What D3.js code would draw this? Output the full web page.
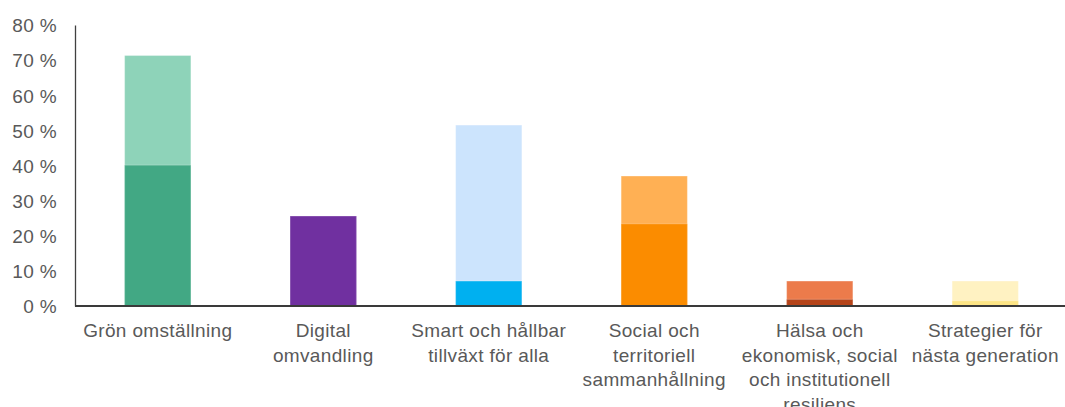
<!DOCTYPE html>
<html>
<head>
<meta charset="utf-8">
<script src="https://cdn.jsdelivr.net/npm/d3@7"></script>
<style>
    body { margin: 0; background: #fff; }
    text { font-family: "Liberation Sans", Arial, sans-serif; }
</style>
</head>
<body>
<div class="chart__container"></div>
<script>
/*-------------------------------------INIT-------------------------------------*/

const CHART__WIDTH = 1065;
const CHART__HEIGHT = 407;

const MARGIN = {
    top: 25,
    right: -3,
    bottom: 101,
    left: 75
}

// category labels, one entry per line
const CATEGORIES = [
    ["Grön omställning"],
    ["Digital", "omvandling"],
    ["Smart och hållbar", "tillväxt för alla"],
    ["Social och", "territoriell", "sammanhållning"],
    ["Hälsa och", "ekonomisk, social", "och institutionell", "resiliens"],
    ["Strategier för", "nästa generation"]
];

// total share (light part) and inner share (dark part), in %
const TOTAL_VALUES = [71.3, 25.6, 51.5, 37.0, 7.1, 7.1];
const INNER_VALUES = [40.1, 25.6, 7.1, 23.4, 1.9, 1.5];

const TOTAL_COLORS = ["#8ed3b9", "#7030a0", "#cce4fd", "#ffb054", "#ec7b4b", "#fff2c2"];
const INNER_COLORS = ["#42a884", "#7030a0", "#00b0f0", "#fb8c00", "#b5441a", "#fde585"];

const Y_TICKS = [0, 10, 20, 30, 40, 50, 60, 70, 80];


/*-------------------------------------Graph-------------------------------------*/

const SVG = d3.select(".chart__container").append("svg");

SVG.attr("width", CHART__WIDTH).attr("height", CHART__HEIGHT);

const xScale = d3.scaleBand()
    .domain(d3.range(CATEGORIES.length))
    .range([MARGIN.left, CHART__WIDTH - MARGIN.right])
    .paddingInner(0.6)
    .paddingOuter(0.3);

const yScale = d3.scaleLinear()
    .domain([0, 80])
    .range([CHART__HEIGHT - MARGIN.bottom, MARGIN.top]);

//Bars (light total behind, dark inner in front)

const drawBars = (values, colors, cls) => {
    SVG.append("g").attr("class", cls)
        .selectAll("rect")
        .data(values)
        .join("rect")
        .attr("x", (d, i) => xScale(i))
        .attr("y", d => yScale(d))
        .attr("width", xScale.bandwidth())
        .attr("height", d => yScale(0) - yScale(d))
        .attr("fill", (d, i) => colors[i])
        .attr("stroke", "#ffffff")
        .attr("stroke-opacity", 0.25)
        .attr("stroke-width", 1);
}

drawBars(TOTAL_VALUES, TOTAL_COLORS, "bars-total");
drawBars(INNER_VALUES, INNER_COLORS, "bars-inner");

//Y axis

const yAxis = d3.axisLeft(yScale)
    .tickValues(Y_TICKS)
    .tickSize(0)
    .tickPadding(18)
    .tickFormat(d => d + " %");

const yAxisG = SVG.append("g")
    .attr("transform", `translate(${MARGIN.left},0)`)
    .call(yAxis);

yAxisG.select(".domain").attr("stroke", "#404040").attr("stroke-width", 1.3);
yAxisG.selectAll("text")
    .attr("fill", "#595959")
    .style("font-size", "19px")
    .style("letter-spacing", "0.35px")
    .attr("dy", "0.36em");

//X axis line

SVG.append("line")
    .attr("x1", MARGIN.left)
    .attr("x2", CHART__WIDTH)
    .attr("y1", yScale(0))
    .attr("y2", yScale(0))
    .attr("stroke", "#3a3a3a")
    .attr("stroke-width", 2);

//Category labels

const labels = SVG.append("g")
    .selectAll("text")
    .data(CATEGORIES)
    .join("text")
    .attr("x", (d, i) => xScale(i) + xScale.bandwidth() / 2)
    .attr("y", yScale(0) + 31)
    .attr("text-anchor", "middle")
    .attr("fill", "#595959")
    .style("font-size", "19px")
    .style("letter-spacing", "0.35px");

labels.selectAll("tspan")
    .data(d => d)
    .join("tspan")
    .attr("x", function () { return d3.select(this.parentNode).attr("x"); })
    .attr("dy", (d, i) => i === 0 ? 0 : 24.7)
    .text(d => d);
</script>
</body>
</html>
